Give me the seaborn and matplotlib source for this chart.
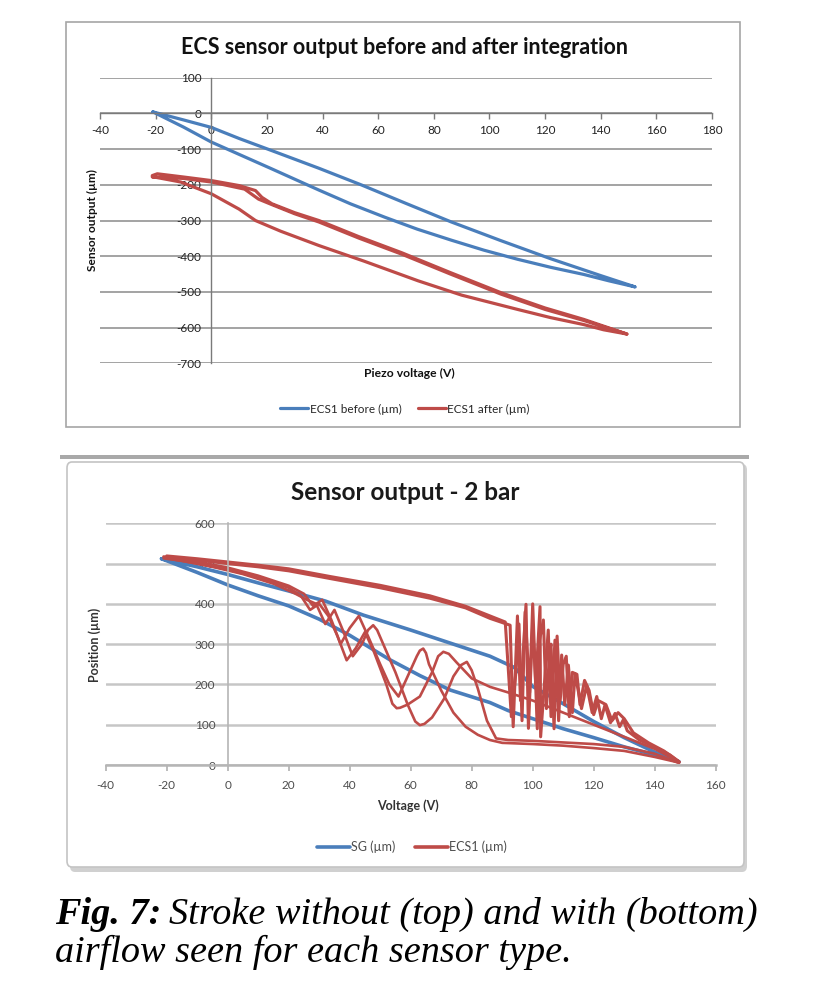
import matplotlib
matplotlib.use("Agg")
import matplotlib.pyplot as plt
from matplotlib.lines import Line2D
from matplotlib.patches import Rectangle, FancyBboxPatch
import seaborn as sns

# ---------------- top panel: ECS1 before / after integration ----------------
# blue loop (before), outgoing branch then return branch
before_out_x = [-21, -10, 0, 10, 21.4, 38.7, 54.1, 70, 86.3, 104, 122, 139.9, 152.4]
before_out_y = [4.5, -18, -39, -70, -103, -153.5, -200.6, -252, -304, -356, -407, -454, -486]
before_back_x = [152.4, 143, 133.9, 122, 110.1, 98, 86.3, 74, 62.5, 50, 38.7, 21.4, 0, -10, -21]
before_back_y = [-486, -469, -451, -431, -408.5, -383, -355, -324, -291, -253, -214.6, -154, -80, -38, 4.5]

# red loop (after), two outgoing passes and one return
after_out1_x = [-21.2, -19.4, -10, 0, 10, 15.9, 18.2, 21.8, 30, 38.7, 53, 68.4, 86, 104.1, 120, 133.9, 149.4]
after_out1_y = [-174, -169, -178, -188, -202, -216, -235, -253, -278, -300, -345, -390, -446, -502, -545, -577, -618]
after_back_x = [149.4, 141, 133.9, 122, 110.1, 90, 74.4, 55, 38.7, 25, 15.9, 10, 0, -11, -21.2]
after_back_y = [-618, -606, -591.5, -572, -549, -509, -469, -414, -370, -330, -300, -268, -225, -192, -177]
after_out2_x = [-21.2, -10, 0, 12, 17, 22, 30, 38.7, 53, 68.4, 86, 104.1, 120, 133.9, 149.4]
after_out2_y = [-178, -182, -192, -212, -240, -256, -281, -304, -349, -394, -450, -506, -549, -580, -618]

# ---------------- bottom panel: sensor output at 2 bar ----------------
sg_out_x = [-21.7, -10, 0, 10, 20, 32, 44.5, 60, 72, 86, 94, 100, 110, 120, 130, 140, 148]
sg_out_y = [512, 492, 473, 452, 432, 407, 372, 335, 305, 270, 242, 195, 152, 108, 68, 32, 8]
sg_back_x = [148, 140, 130, 120, 110, 100, 92, 86, 73, 63, 53, 40, 30, 20, 10, 0, -10, -21.7]
sg_back_y = [8, 25, 45, 68, 90, 115, 135, 155, 186, 222, 262, 322, 362, 395, 420, 447, 478, 512]

ecs_out1_x = [-21, -10, 0, 10, 20, 33.5, 50, 66.3, 78, 86, 92.6, 93.6, 95, 96, 97.8, 98.6, 100, 101,
              102.4, 102.6, 105.1, 106, 107.3, 108.5, 109.5, 110.5, 111.7, 113, 113.9, 116, 117.7,
              119.5, 121, 122.5, 123.7, 125.5, 127, 128.5, 129.7, 131, 135, 140, 145, 148]
ecs_out1_y = [517, 509, 500, 492, 482, 463, 440, 414, 390, 364, 347, 95, 370, 160, 399, 91, 350, 200,
              393, 70, 335, 120, 310, 110, 273, 150, 248, 130, 227, 140, 198,
              130, 170, 115, 149, 105, 128, 95, 112, 85, 62, 45, 25, 8]
ecs_out2_x = [-20, -10, 0, 10, 20, 33.5, 50, 66.3, 78, 86, 91, 93, 94.5, 95.5, 96.5, 97.5, 99, 100,
              101.5, 102, 103.5, 104.5, 105.5, 106, 107, 108, 109, 110, 111, 112, 113, 114.5, 115.5,
              117, 118.5, 120, 121.5, 124, 126, 128, 130, 133, 138, 143, 148]
ecs_out2_y = [519, 512, 504, 496, 487, 468, 446, 420, 394, 370, 355, 120, 230, 350, 110, 380, 180, 400,
              90, 300, 360, 140, 280, 300, 90, 320, 160, 250, 270, 120, 230, 225, 150,
              210, 185, 125, 160, 150, 110, 130, 115, 80, 55, 35, 8]
ecs_back1_x = [148, 140, 130, 120, 110, 100, 92, 88, 85, 82, 80, 78.4, 76.5, 74, 71, 67, 64.5, 63, 61.5,
               59, 55, 51, 49, 47.7, 46, 44, 41, 38, 35, 32, 29, 26, 22, 15, 5, -5, -15, -21]
ecs_back1_y = [5, 28, 45, 52, 56, 60, 62, 66, 110, 190, 235, 256, 248, 220, 165, 118, 102, 99, 108,
               150, 230, 300, 335, 347, 335, 300, 270, 330, 385, 350, 400, 410, 426, 450, 474, 492, 507, 513]
ecs_back2_x = [148, 140, 130, 120, 110, 100, 92, 86, 80, 75, 72.5, 70.7, 69, 67, 63, 59, 56.5, 55.4, 54,
               52, 48, 45, 42, 39, 36, 33, 30, 27, 24, 20, 10, 0, -10, -20]
ecs_back2_y = [8, 40, 70, 100, 130, 160, 180, 194, 215, 255, 276, 281, 270, 230, 170, 150, 142, 141, 152,
               200, 280, 330, 290, 260, 320, 370, 400, 385, 420, 440, 465, 485, 500, 513]
ecs_back3_x = [148, 140, 130, 120, 110, 100, 90, 86, 82, 78, 74, 70, 66, 65, 64.1, 63, 62, 59, 56, 53,
               50, 46, 43, 40, 37, 34, 31, 28, 25, 20, 10, 0, -10, -19]
ecs_back3_y = [6, 20, 35, 42, 48, 52, 55, 62, 75, 95, 130, 185, 250, 278, 289, 284, 270, 220, 170, 200,
               250, 320, 370, 340, 300, 360, 410, 395, 425, 445, 470, 490, 505, 516]

BLUE = "#4a7ebb"
RED = "#be4b48"

sns.set_theme(style="white")
plt.rcParams['font.family'] = ['Lato', 'DejaVu Sans']
plt.rcParams['axes.unicode_minus'] = False

W, H = 830, 984
fig = plt.figure(figsize=(8.3, 9.84), dpi=100)


def fx(px):
    return px / W


def fy(py):
    return 1 - py / H


def path(ax, xs, ys, color, lw):
    sns.lineplot(x=xs, y=ys, sort=False, estimator=None, color=color, lw=lw,
                 ax=ax, legend=False, solid_joinstyle="round", solid_capstyle="round")


# panel frames (kept behind the axes)
fig.patches.append(Rectangle((fx(66), fy(427)), fx(740) - fx(66), fy(22) - fy(427),
                             transform=fig.transFigure, fill=False, ec="#a6a6a6", lw=1.2, zorder=-5))
fig.patches.append(Rectangle((fx(60), fy(459)), fx(749) - fx(60), 0.004,
                             transform=fig.transFigure, fc="#a9a9a9", ec="none", zorder=-5))
fig.patches.append(FancyBboxPatch((fx(70), fy(872)), fx(747) - fx(70), fy(464) - fy(872),
                                  boxstyle="round,pad=0,rounding_size=0.006",
                                  transform=fig.transFigure, fc="#d0d0d0", ec="none", zorder=-6))
fig.patches.append(FancyBboxPatch((fx(67), fy(867)), fx(744) - fx(67), fy(462) - fy(867),
                                  boxstyle="round,pad=0,rounding_size=0.006",
                                  transform=fig.transFigure, fc="white", ec="#c4c4c4", lw=1.2, zorder=-5))

# ---------------- top chart ----------------
ax1 = fig.add_axes([fx(100), fy(363.3), (712 - 100) / W, (363.3 - 77.8) / H])
ax1.set_facecolor("none")
path(ax1, before_out_x + before_back_x, before_out_y + before_back_y, BLUE, 2.3)
path(ax1, after_out1_x + after_back_x + after_out2_x, after_out1_y + after_back_y + after_out2_y, RED, 2.3)

ax1.set_xlim(-40, 180)
ax1.set_ylim(-700, 100)
ax1.set_xticks(range(-40, 181, 20))
ax1.set_yticks(range(-700, 101, 100))
ax1.set_axisbelow(True)
ax1.yaxis.grid(True, color="#8a8a8a", lw=1.1)
ax1.xaxis.grid(False)
for s in ["top", "right"]:
    ax1.spines[s].set_visible(False)
ax1.spines["left"].set_position(("data", 0))
ax1.spines["bottom"].set_position(("data", 0))
ax1.spines["left"].set_color("#7a7a7a")
ax1.spines["bottom"].set_color("#7a7a7a")
ax1.spines["left"].set_linewidth(1.0)
ax1.spines["bottom"].set_linewidth(1.0)
ax1.tick_params(axis="x", length=4, width=1, color="#7a7a7a", direction="out", pad=4,
                labelsize=8.5, labelcolor="#222222", bottom=True)
ax1.tick_params(axis="y", length=0, pad=7, labelsize=8.5, labelcolor="#222222", left=True)
ax1.set_xlabel("")
ax1.set_ylabel("")

fig.text(fx(404), fy(48), "ECS sensor output before and after integration", ha="center", va="center",
         fontsize=15.5, fontweight="bold", color="#111111")
fig.text(fx(409), fy(373), "Piezo voltage (V)", ha="center", va="center", fontsize=8.7,
         fontweight="bold", color="#111111")
fig.text(fx(92), fy(220), "Sensor output (µm)", ha="center", va="center", rotation=90,
         fontsize=8.6, fontweight="bold", color="#111111")
fig.legend(handles=[Line2D([], [], color=BLUE, lw=2.3, label="ECS1 before (µm)"),
                    Line2D([], [], color=RED, lw=2.3, label="ECS1 after (µm)")],
           loc="center", bbox_to_anchor=(fx(405), fy(409)), ncol=2, frameon=False,
           fontsize=8.5, handlelength=2.4, handletextpad=0.1, columnspacing=1.4)

# ---------------- bottom chart ----------------
ax2 = fig.add_axes([fx(105.7), fy(765), (715.7 - 105.7) / W, (765 - 523.3) / H])
ax2.set_facecolor("none")
path(ax2, sg_out_x + sg_back_x, sg_out_y + sg_back_y, BLUE, 2.6)
for bx, by in [(ecs_back1_x, ecs_back1_y), (ecs_back2_x, ecs_back2_y), (ecs_back3_x, ecs_back3_y)]:
    path(ax2, bx, by, RED, 1.9)
path(ax2, ecs_out1_x, ecs_out1_y, RED, 2.2)
path(ax2, ecs_out2_x, ecs_out2_y, RED, 2.2)

ax2.set_xlim(-40, 160)
ax2.set_ylim(0, 600)
ax2.set_xticks(range(-40, 161, 20))
ax2.set_yticks(range(0, 601, 100))
ax2.set_axisbelow(True)
ax2.yaxis.grid(True, color="#c6c6c6", lw=1.8)
ax2.xaxis.grid(False)
for s in ["top", "right"]:
    ax2.spines[s].set_visible(False)
ax2.spines["left"].set_position(("data", 0))
ax2.spines["left"].set_color("#b5b5b5")
ax2.spines["bottom"].set_color("#b5b5b5")
ax2.spines["left"].set_linewidth(1.2)
ax2.spines["bottom"].set_linewidth(1.8)
ax2.tick_params(axis="x", length=4, width=1.2, color="#b0b0b0", direction="out", pad=7,
                labelsize=8.5, labelcolor="#4d4d4d", bottom=True)
ax2.tick_params(axis="y", length=0, pad=9, labelsize=8.5, labelcolor="#4d4d4d", left=True)
ax2.set_xlabel("")
ax2.set_ylabel("")

fig.text(fx(405), fy(492), "Sensor output - 2 bar", ha="center", va="center",
         fontsize=17.5, fontweight="bold", color="#1a1a1a")
fig.text(fx(408), fy(806), "Voltage (V)", ha="center", va="center", fontsize=9,
         fontweight="bold", color="#333333")
fig.text(fx(95), fy(645), "Position (µm)", ha="center", va="center", rotation=90,
         fontsize=9, fontweight="bold", color="#333333")
fig.legend(handles=[Line2D([], [], color=BLUE, lw=2.6, label="SG (µm)"),
                    Line2D([], [], color=RED, lw=2.6, label="ECS1 (µm)")],
           loc="center", bbox_to_anchor=(fx(412), fy(847)), ncol=2, frameon=False,
           fontsize=9, handlelength=2.6, handletextpad=0.1, columnspacing=1.6, labelcolor="#4d4d4d")

# ---------------- caption ----------------
serif = ["Liberation Serif", "DejaVu Serif"]
t1 = fig.text(fx(55), fy(924), "Fig. 7:", family=serif, style="italic", fontweight="bold",
              fontsize=27.5, va="baseline", ha="left", color="black")
renderer = fig.canvas.get_renderer()
bb = t1.get_window_extent(renderer=renderer)
fig.text((bb.x1 + 8) / W, fy(924), "Stroke without (top) and with (bottom)", family=serif,
         style="italic", fontsize=27.5, va="baseline", ha="left", color="black")
fig.text(fx(55), fy(962), "airflow seen for each sensor type.", family=serif, style="italic",
         fontsize=27.5, va="baseline", ha="left", color="black")

fig.savefig("out.png", dpi=100)
